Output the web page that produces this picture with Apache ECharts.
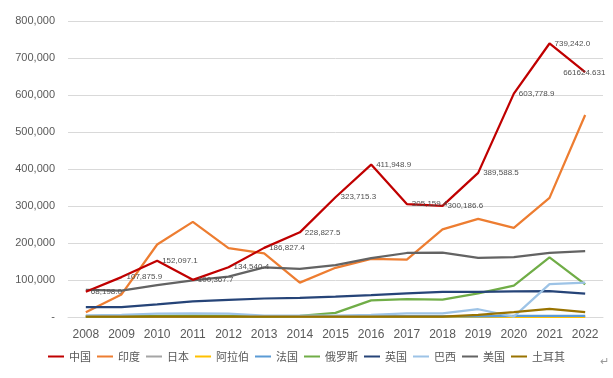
<!DOCTYPE html>
<html><head><meta charset="utf-8">
<script src="https://cdn.jsdelivr.net/npm/echarts@6/dist/echarts.min.js"></script>
<style>html,body{margin:0;padding:0;background:#fff;}#c{width:613px;height:378px;}</style>
</head><body><div id="c"></div>
<script>
var years = ['2008','2009','2010','2011','2012','2013','2014','2015','2016','2017','2018','2019','2020','2021','2022'];
var seriesNames = ['中国','印度','日本','阿拉伯','法国','俄罗斯','英国','巴西','美国','土耳其'];
var seriesColors = ['#C00000','#ED7D31','#A5A5A5','#FFC000','#5B9BD5','#70AD47','#264478','#9DC3E6','#636363','#997300'];
var china   = [68198.0,107875.9,152097.1,100367.7,134540.4,186827.4,228827.5,323715.3,411948.9,305159.4,300186.6,389588.5,603778.9,739242.0,661624.631];
var india   = [12600,61000,196000,257000,186000,172000,93000,133000,157000,155000,237000,265000,241000,322000,546000];
var japan   = [1000,1000,1200,1200,1000,1000,1000,1000,1000,1000,1000,1000,1000,1000,1000];
var arabia  = [500,500,500,500,500,500,500,500,500,500,500,500,500,500,500];
var france  = [2000,2000,2000,2000,2000,2000,2000,2000,2000,2000,2000,2000,3000,3000,3000];
var russia  = [2000,2000,3000,4000,3000,2000,3000,11000,45000,48000,47000,64000,85000,161000,88000];
var uk      = [27000,27000,34000,42000,46000,50000,52000,55000,59000,64000,68000,68000,69000,70000,63000];
var brazil  = [4600,6000,9000,10000,9000,4000,4000,4000,6000,10000,10000,21000,1000,89000,93000];
var usa     = [73000,71000,86000,99000,109000,134000,130000,140000,159000,173000,174000,160000,162000,173000,178000];
var turkey  = [1000,1000,1000,1000,1000,1000,1000,1000,1000,1000,1000,6000,13000,22000,13000];
var allData = [china,india,japan,arabia,france,russia,uk,brazil,usa,turkey];

function fmt(v){
  return Number(v).toLocaleString('en-US',{minimumFractionDigits:1,maximumFractionDigits:1});
}

var series = seriesNames.map(function(n,i){
  var s = {
    name:n, type:'line', data:allData[i].slice(),
    symbol:'none', showSymbol:false,
    lineStyle:{color:seriesColors[i], width:2.25},
    itemStyle:{color:seriesColors[i]},
    z: 2 + i,
    animation:false
  };
  if(i===0){
    s.symbol='circle'; s.symbolSize=0.01; s.showSymbol=true;
    s.data = china.map(function(v,k){
      var d = {value:v};
      if(k===china.length-1){
        d.label = {formatter:function(p){return String(p.value);}, position:'right', offset:[-27,1]};
      }
      return d;
    });
    s.label = {show:true, position:'right', distance:5, fontSize:8, color:'#505050',
      fontFamily:'Liberation Sans, Arial, sans-serif',
      formatter:function(p){return fmt(p.value);}};
    s.z = 20;
  }
  return s;
});

var chart = echarts.init(document.getElementById('c'), null, {renderer:'canvas'});
chart.setOption({
  animation:false,
  backgroundColor:'#ffffff',
  grid:{left:68, right:10, top:21, bottom:61, containLabel:false},
  legend:{
    data:seriesNames, bottom:11, left:'center',
    icon:'rect', itemWidth:16, itemHeight:2, itemGap:6,
    textStyle:{fontSize:11, color:'#595959', fontFamily:'Noto Sans CJK SC, sans-serif'}
  },
  xAxis:{
    type:'category', data:years, boundaryGap:true,
    axisLine:{show:true, lineStyle:{color:'#D9D9D9'}},
    axisTick:{show:false},
    axisLabel:{fontSize:12, color:'#595959', margin:12, fontFamily:'Liberation Sans, Arial, sans-serif'}
  },
  yAxis:{
    type:'value', min:0, max:800000, interval:100000,
    axisLine:{show:false}, axisTick:{show:false},
    splitLine:{lineStyle:{color:'#D9D9D9', width:1}},
    axisLabel:{fontSize:11, color:'#595959', margin:13, fontFamily:'Liberation Sans, Arial, sans-serif',
      formatter:function(v){return v===0?'-':v.toLocaleString('en-US');}}
  },
  graphic:[{type:'text', left:600, top:356, style:{text:'↵', fill:'#999999', fontSize:11}}],
  series:series
});
</script></body></html>
